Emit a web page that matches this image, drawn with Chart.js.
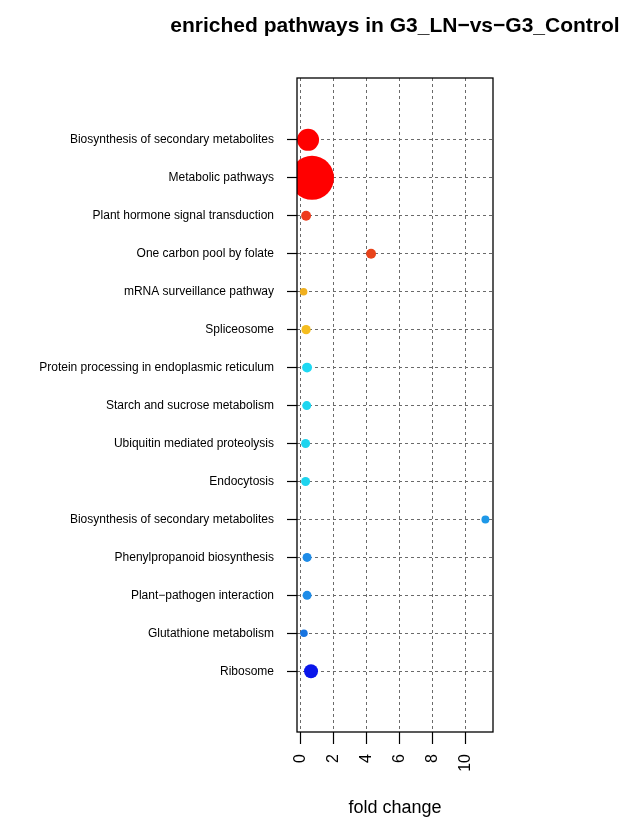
<!DOCTYPE html>
<html>
<head>
<meta charset="utf-8">
<script src="https://cdn.jsdelivr.net/npm/chart.js@4"></script>
<style>
  html, body { margin: 0; padding: 0; background: #fff; }
  #wrap { width: 622px; height: 820px; }
</style>
</head>
<body>
<div id="wrap"><canvas id="chart"></canvas></div>
<script>
// enriched pathways bubble plot (KEGG) — fold change vs pathway
const pathways = [
  'Biosynthesis of secondary metabolites',
  'Metabolic pathways',
  'Plant hormone signal transduction',
  'One carbon pool by folate',
  'mRNA surveillance pathway',
  'Spliceosome',
  'Protein processing in endoplasmic reticulum',
  'Starch and sucrose metabolism',
  'Ubiquitin mediated proteolysis',
  'Endocytosis',
  'Biosynthesis of secondary metabolites',
  'Phenylpropanoid biosynthesis',
  'Plant\u2212pathogen interaction',
  'Glutathione metabolism',
  'Ribosome'
];
const foldChange = [0.45, 0.69, 0.33, 4.27, 0.18, 0.33, 0.39, 0.37, 0.30, 0.30, 11.2, 0.39, 0.39, 0.20, 0.63];
const geneNumber = [84, 336, 17, 17, 10, 15, 17, 14, 14, 14, 11, 14, 14, 10, 34];
const xTicks = [0, 2, 4, 6, 8, 10];

// colour per point (significance gradient red -> blue)
const pointColors = [
  '#ff0000', '#ff0000', '#ee3b1c', '#e8431a', '#f0b020', '#f5bd1f',
  '#1ed8f2', '#1ed6f0', '#1ed4ee', '#1ed4ee',
  '#1e98e8', '#1e8ce8', '#1e8ce8', '#1874e0', '#0a16ea'
];

const FONT = '"Liberation Sans", Arial, sans-serif';
const n = pathways.length;
const radius = g => 1.2 * Math.sqrt(g);

const points = foldChange.map((v, i) => ({ x: v, y: n - i, r: radius(geneNumber[i]) }));

// box round the plot + title centred over the plot area
const framePlugin = {
  id: 'frame',
  afterDraw(chart) {
    const { ctx, chartArea: a } = chart;
    ctx.save();
    ctx.strokeStyle = '#000';
    ctx.lineWidth = 1.3;
    ctx.strokeRect(a.left, a.top, a.right - a.left, a.bottom - a.top);
    ctx.fillStyle = '#000';
    ctx.font = 'bold 21px ' + FONT;
    ctx.textAlign = 'center';
    ctx.textBaseline = 'alphabetic';
    ctx.fillText('enriched pathways in G3_LN\u2212vs\u2212G3_Control', (a.left + a.right) / 2, 32);
    ctx.restore();
  }
};

const gridCol = '#6a6a6a';

new Chart(document.getElementById('chart'), {
  type: 'bubble',
  data: {
    datasets: [{
      data: points,
      backgroundColor: pointColors,
      borderWidth: 0,
      hoverBorderWidth: 0,
      clip: 0
    }]
  },
  options: {
    responsive: true, maintainAspectRatio: false,
    animation: false,
    layout: { padding: { top: 78, right: 129, bottom: 0, left: 0 } },
    plugins: { legend: { display: false }, tooltip: { enabled: false } },
    scales: {
      x: {
        type: 'linear', min: -0.22, max: 11.66,
        afterBuildTicks: s => { s.ticks = xTicks.map(v => ({ value: v })); },
        afterFit: s => { s.height = 88; },
        grid: { color: gridCol, lineWidth: 1, tickLength: 12, tickColor: '#000', tickWidth: 1.2 },
        border: { display: false, dash: [3, 3] },
        ticks: {
          color: '#000', font: { family: FONT, size: 16 },
          minRotation: 90, maxRotation: 90, padding: 10
        },
        title: {
          display: true, text: 'fold change', color: '#000',
          font: { family: FONT, size: 18 }, padding: { top: 0, bottom: 1 }
        }
      },
      y: {
        type: 'linear', min: -0.6, max: 16.63,
        afterBuildTicks: s => { s.ticks = pathways.map((p, i) => ({ value: n - i })); },
        afterFit: s => { s.width = 297; },
        grid: { color: gridCol, lineWidth: 1, tickLength: 10, tickColor: '#000', tickWidth: 1.2 },
        border: { display: false, dash: [3, 3] },
        ticks: {
          color: '#000', font: { family: FONT, size: 12 }, padding: 13,
          callback: v => pathways[n - v]
        }
      }
    }
  },
  plugins: [framePlugin]
});
</script>
</body>
</html>
